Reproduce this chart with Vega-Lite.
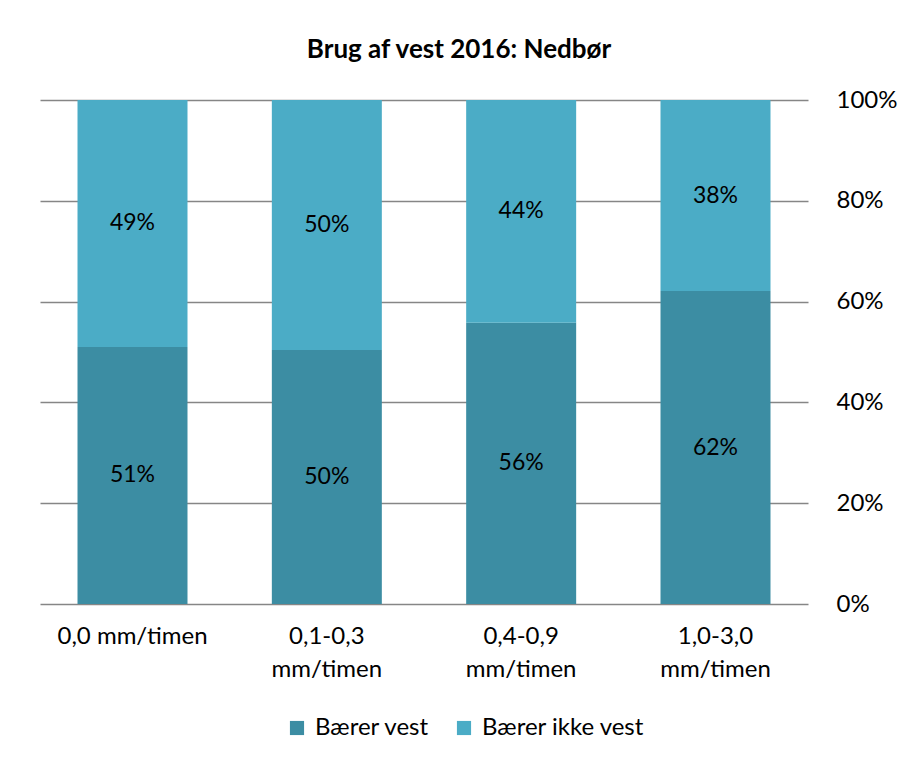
{
  "$schema": "https://vega.github.io/schema/vega-lite/v6.json",
  "autosize": "none",
  "width": 768,
  "height": 504,
  "padding": {"left": 40, "top": 100, "right": 98, "bottom": 156},
  "background": "white",
  "title": {
    "text": "Brug af vest 2016: Nedbør",
    "font": "Lato",
    "fontSize": 26,
    "fontWeight": "bold",
    "color": "#000000",
    "anchor": "middle",
    "dx": 35,
    "offset": 25
  },
  "config": {
    "view": {"stroke": null},
    "font": "Lato"
  },
  "data": {
    "values": [
      {"kategori": "0,0 mm/timen", "serie": "Bærer vest", "orden": 1, "andel": 0.51},
      {"kategori": "0,0 mm/timen", "serie": "Bærer ikke vest", "orden": 2, "andel": 0.49},
      {"kategori": "0,1-0,3 mm/timen", "serie": "Bærer vest", "orden": 1, "andel": 0.504},
      {"kategori": "0,1-0,3 mm/timen", "serie": "Bærer ikke vest", "orden": 2, "andel": 0.496},
      {"kategori": "0,4-0,9 mm/timen", "serie": "Bærer vest", "orden": 1, "andel": 0.558},
      {"kategori": "0,4-0,9 mm/timen", "serie": "Bærer ikke vest", "orden": 2, "andel": 0.442},
      {"kategori": "1,0-3,0 mm/timen", "serie": "Bærer vest", "orden": 1, "andel": 0.621},
      {"kategori": "1,0-3,0 mm/timen", "serie": "Bærer ikke vest", "orden": 2, "andel": 0.379}
    ]
  },
  "encoding": {
    "x": {
      "field": "kategori",
      "type": "nominal",
      "sort": null,
      "scale": {"paddingInner": 0.434, "paddingOuter": 0.193},
      "axis": {
        "title": null,
        "labelAngle": 0,
        "domain": false,
        "ticks": false,
        "labelFont": "Lato",
        "labelFontSize": 24,
        "labelColor": "#000000",
        "labelPadding": 20,
        "labelLineHeight": 33,
        "labelExpr": "indexof(datum.value, '-') > 0 ? split(datum.value, ' ') : datum.value"
      }
    },
    "y": {
      "field": "andel",
      "type": "quantitative",
      "stack": "zero",
      "scale": {"domain": [0, 1]},
      "axis": {
        "orient": "right",
        "title": null,
        "format": ".0%",
        "values": [0, 0.2, 0.4, 0.6, 0.8, 1],
        "domain": false,
        "ticks": false,
        "grid": true,
        "gridColor": "#868686",
        "gridWidth": 1.5,
        "labelFont": "Lato",
        "labelFontSize": 24,
        "labelColor": "#000000",
        "labelPadding": 28
      }
    },
    "order": {"field": "orden", "type": "quantitative"}
  },
  "layer": [
    {
      "mark": {"type": "bar"},
      "encoding": {
        "color": {
          "field": "serie",
          "type": "nominal",
          "sort": ["Bærer vest", "Bærer ikke vest"],
          "scale": {"domain": ["Bærer vest", "Bærer ikke vest"], "range": ["#3C8DA3", "#4BACC6"]},
          "legend": {
            "title": null,
            "orient": "none",
            "direction": "horizontal",
            "legendX": 245,
            "legendY": 616,
            "symbolType": "square",
            "symbolSize": 200,
            "symbolStrokeWidth": 0,
            "symbolOpacity": 1,
            "labelFont": "Lato",
            "labelFontSize": 24,
            "labelColor": "#000000",
            "labelLimit": 400,
            "labelOffset": 6,
            "columnPadding": 22
          }
        }
      }
    },
    {
      "mark": {"type": "text", "font": "Lato", "fontSize": 23, "color": "#000000"},
      "encoding": {
        "y": {"field": "andel", "type": "quantitative", "stack": "zero", "bandPosition": 0.5},
        "text": {"field": "andel", "type": "quantitative", "format": ".0%"}
      }
    }
  ]
}
